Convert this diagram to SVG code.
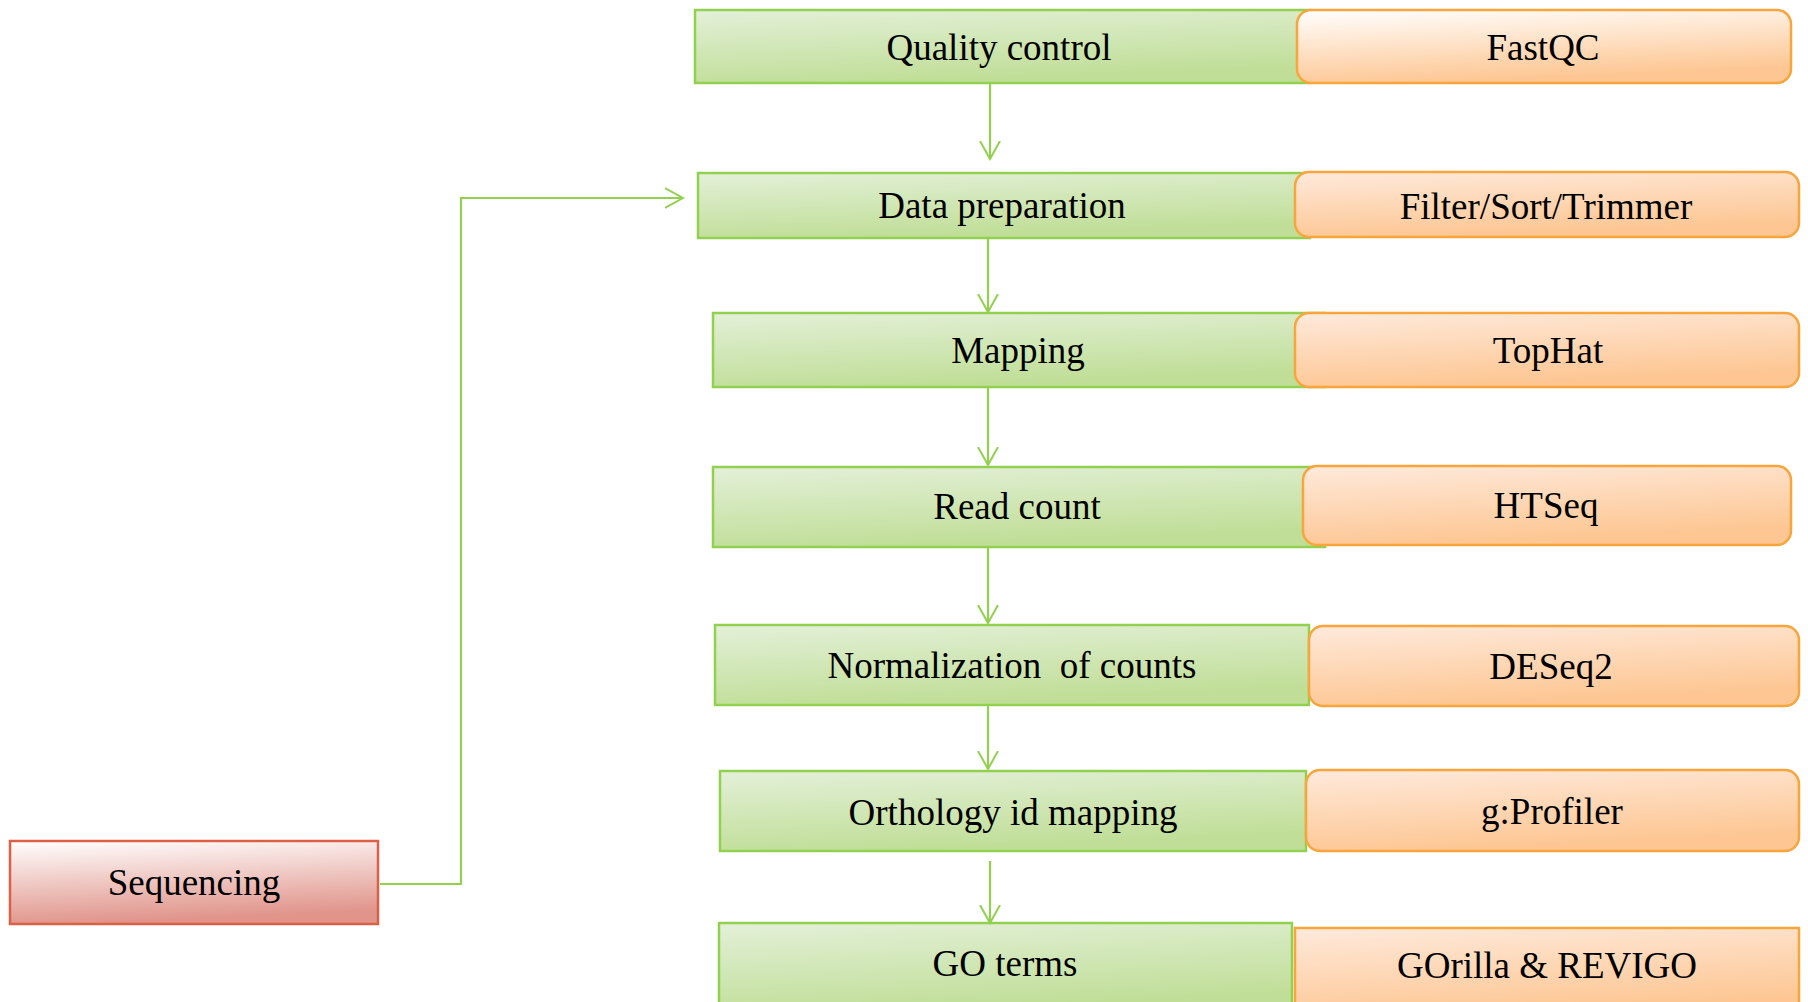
<svg xmlns="http://www.w3.org/2000/svg" width="1808" height="1002" viewBox="0 0 1808 1002">
<defs>
<linearGradient id="gGreen" x1="0" y1="0" x2="0.3" y2="1">
<stop offset="0" stop-color="#E3F0D8"/>
<stop offset="1" stop-color="#C0DE97"/>
</linearGradient>
<linearGradient id="gOrange" x1="0" y1="0" x2="0.3" y2="1">
<stop offset="0" stop-color="#FEEADC"/>
<stop offset="1" stop-color="#FDC692"/>
</linearGradient>
<linearGradient id="gOrangeW" x1="0" y1="0" x2="0.3" y2="1">
<stop offset="0" stop-color="#FFFFFF"/>
<stop offset="1" stop-color="#FDC692"/>
</linearGradient>
<linearGradient id="gRed" x1="0" y1="0" x2="0.2" y2="1">
<stop offset="0" stop-color="#FFFFFF"/>
<stop offset="1" stop-color="#E0948A"/>
</linearGradient>
<marker id="arr" viewBox="0 0 20 22" refX="18" refY="11" markerWidth="20" markerHeight="22" markerUnits="userSpaceOnUse" orient="auto">
<path d="M0,1 L18,11 L0,21" fill="none" stroke="#92D050" stroke-width="2"/>
</marker>
<style>
.step rect{fill:url(#gGreen);stroke:#92D050;stroke-width:2.5}
.tool rect{fill:url(#gOrange);stroke:#F8A53C;stroke-width:2.5}
#fastqc rect{fill:url(#gOrangeW)}
#sequencing rect{fill:url(#gRed);stroke:#DD5F45;stroke-width:2.5}
text{font-family:"Liberation Serif","Times New Roman",serif;font-size:37px;fill:#000;text-anchor:middle}
.conn path{fill:none;stroke:#92D050;stroke-width:2.2;marker-end:url(#arr)}
</style>
</defs>
<rect width="1808" height="1002" fill="#FFFFFF"/>

<g id="quality-control" class="step"><rect x="695" y="10" width="615" height="73"/><text x="999" y="60">Quality control</text></g>
<g id="data-preparation" class="step"><rect x="698" y="173" width="612" height="65"/><text x="1002" y="218">Data preparation</text></g>
<g id="mapping" class="step"><rect x="713" y="313" width="612" height="74"/><text x="1018" y="363">Mapping</text></g>
<g id="read-count" class="step"><rect x="713" y="467" width="612" height="80"/><text x="1017" y="519">Read count</text></g>
<g id="normalization" class="step"><rect x="715" y="625" width="594" height="80"/><text x="1012" y="678" xml:space="preserve">Normalization  of counts</text></g>
<g id="orthology" class="step"><rect x="720" y="771" width="586" height="80"/><text x="1013" y="825">Orthology id mapping</text></g>
<g id="go-terms" class="step"><rect x="719" y="923" width="573" height="90"/><text x="1005" y="976">GO terms</text></g>

<g id="fastqc" class="tool"><rect x="1297" y="10" width="494" height="73" rx="14"/><text x="1543" y="60">FastQC</text></g>
<g id="filter-sort-trimmer" class="tool"><rect x="1295" y="172" width="504" height="65" rx="14"/><text x="1546" y="219">Filter/Sort/Trimmer</text></g>
<g id="tophat" class="tool"><rect x="1295" y="313" width="504" height="74" rx="14"/><text x="1548" y="363">TopHat</text></g>
<g id="htseq" class="tool"><rect x="1303" y="466" width="488" height="79" rx="14"/><text x="1546" y="518">HTSeq</text></g>
<g id="deseq2" class="tool"><rect x="1309" y="626" width="490" height="80" rx="14"/><text x="1551" y="679">DESeq2</text></g>
<g id="gprofiler" class="tool"><rect x="1306" y="770" width="493" height="81" rx="14"/><text x="1552" y="824">g:Profiler</text></g>
<g id="gorilla-revigo" class="tool"><rect x="1295" y="928" width="504" height="90"/><text x="1547" y="978">GOrilla &amp; REVIGO</text></g>

<g id="sequencing"><rect x="10" y="841" width="368" height="83"/><text x="194" y="895">Sequencing</text></g>

<g id="connectors" class="conn">
<path d="M990,83 L990,159"/>
<path d="M988,238 L988,312"/>
<path d="M988,387 L988,465"/>
<path d="M988,547 L988,623"/>
<path d="M988,705 L988,769"/>
<path d="M990,861 L990,923"/>
<path d="M380,884 L461,884 L461,198 L683,198"/>
</g>
</svg>
